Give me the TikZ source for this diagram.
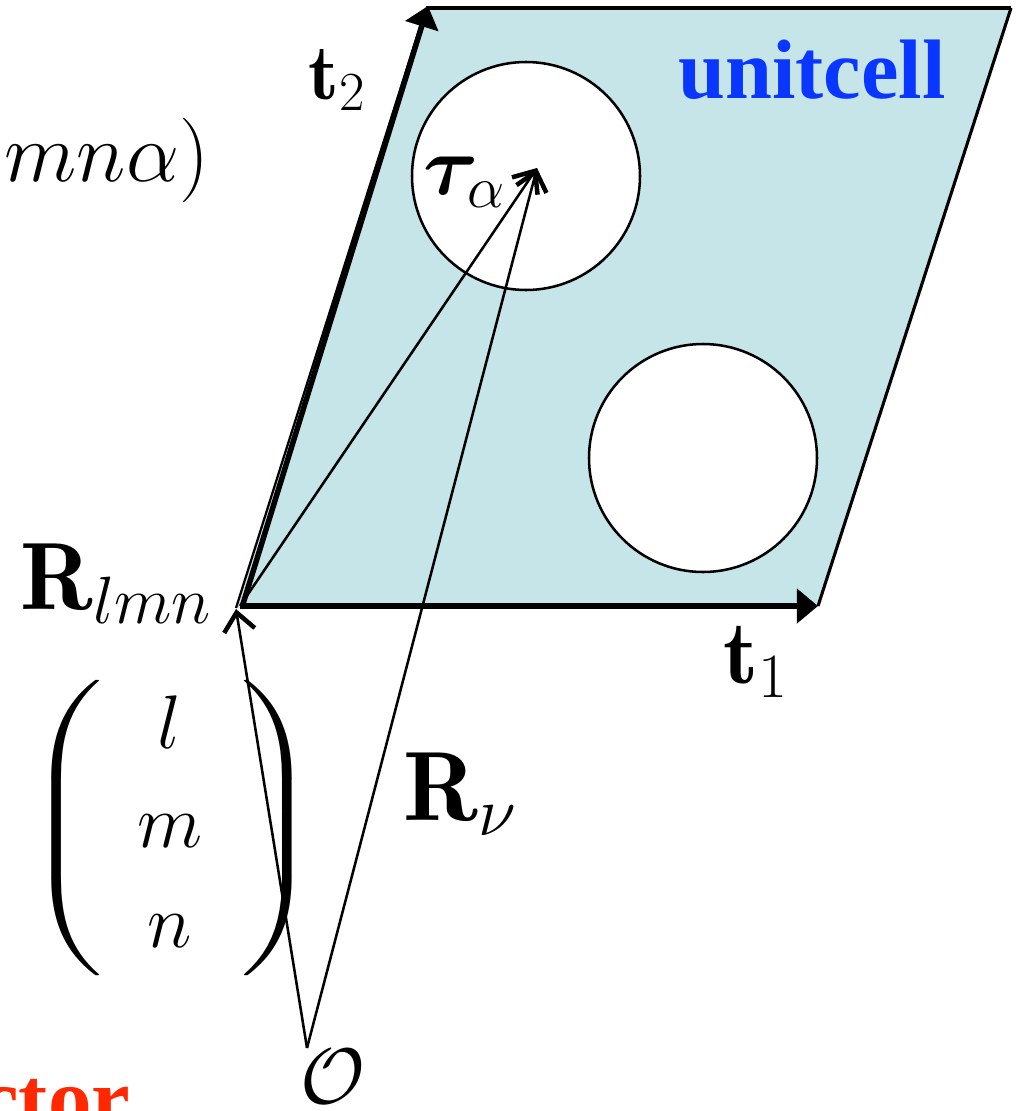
\RequirePackage{fix-cm}
\documentclass[tikz,border=0pt]{standalone}
\usepackage{amsmath}
\usepackage{bm}
\usepackage{fontspec}
\newfontfamily\timesfont{Liberation Serif}
\usetikzlibrary{arrows.meta}
\definecolor{cellfill}{RGB}{198,229,233}
\definecolor{cellblue}{RGB}{10,55,255}
\definecolor{vecred}{RGB}{255,40,0}
\renewcommand{\arraystretch}{1.18}
\newcommand{\bigparen}[1]{\vcenter{\hbox{\resizebox*{54pt}{210pt}{$#1$}}}}

\begin{document}
\begin{tikzpicture}[x=0.025cm, y=-0.025cm, line join=round,
    every node/.style={font=\fontsize{54}{60}\selectfont},
    thinvec/.style={line width=1.8pt, -{Straight Barb[length=13pt,width=22pt,line width=3.2pt]}},
    cellvec/.style={line width=3.9pt, -{Triangle[length=15pt,width=24pt]}},
    hole/.style={draw, fill=white, line width=1.8pt}]
            \useasboundingbox (0,0) rectangle (1023,1111);
            \clip (0,0) rectangle (1023,1111);

            % unit cell
            \coordinate (cellA) at (236,608);
            \coordinate (cellB) at (818,606);
            \coordinate (cellC) at (1011,8);
            \coordinate (cellD) at (426,8);
            \fill[cellfill] (cellA) -- (cellB) -- (cellC) -- (cellD) -- cycle;
            \draw[line width=1.6pt] (cellA) -- (cellD);
            \draw[line width=2.8pt] (cellD) -- (cellC);
            \draw[line width=2.2pt] (cellC) -- (cellB);

            % two atoms
            \draw[hole] (526,176) circle (114);
            \draw[hole] (703,458) circle (114);

            % lattice vectors
            \coordinate (corner) at (240,606);
            \coordinate (t2start) at (243,604);
            \coordinate (t2end) at (428,6);
            \draw[cellvec] (corner) -- (cellB);
            \draw[cellvec] (t2start) -- (t2end);

            % position vectors
            \coordinate (orig) at (307,1048);
            \coordinate (rtip) at (236,609);
            \coordinate (tautip) at (537,168);
            \draw[thinvec] (orig) -- (rtip);
            \draw[thinvec] (orig) -- (tautip);
            \draw[thinvec] (corner) -- (tautip);

            \node[font=\fontsize{56}{62}\selectfont] (t2lab) at (337,80) {$\mathbf{t}_2$};
            \node[font=\fontsize{64}{70}\selectfont] (t1lab) at (756,662) {$\mathbf{t}_1$};
            \node[font=\timesfont\bfseries\fontsize{60}{66}\selectfont, text=cellblue] (celllab) at (812,70) {unitcell};
            \node[font=\fontsize{60}{66}\selectfont] (taulab) at (464,182) {$\bm{\tau}_\alpha$};
            \node[font=\fontsize{68}{74}\selectfont] (rlmnlab) at (116,584) {$\mathbf{R}_{lmn}$};
            \node[font=\fontsize{70}{76}\selectfont] (rnulab) at (460,794) {$\mathbf{R}_\nu$};
            \node[font=\fontsize{56}{62}\selectfont] (olab) at (333,1077) {$\mathcal{O}$};
            \node[font=\fontsize{60}{66}\selectfont] (indexlab) at (107,160) {$mn\alpha)$};
            \node (lmnvec) at (172,828) {$\bigparen{\biggl(}\begin{array}{@{\hspace{25pt}}c@{\hspace{28pt}}} l\\ m\\ n\end{array}\bigparen{\biggr)}$};
            \node[font=\timesfont\bfseries\fontsize{62}{70}\selectfont, text=vecred, anchor=base west, inner sep=0pt] (veclab) at (-20,1128) {ctor};
        \end{tikzpicture}
\end{document}
